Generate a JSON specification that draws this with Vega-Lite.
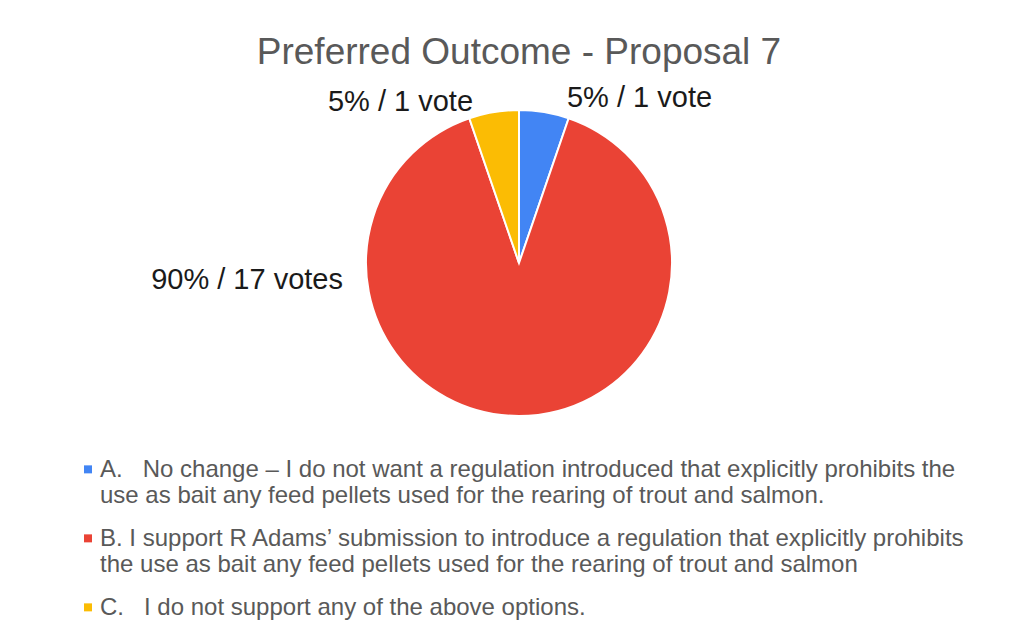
{
  "$schema": "https://vega.github.io/schema/vega-lite/v6.json",
  "autosize": "none",
  "width": 1020,
  "height": 346,
  "padding": {"left": 9, "top": 90, "right": 0, "bottom": 194},
  "background": "white",
  "title": {
    "text": "Preferred Outcome - Proposal 7",
    "fontSize": 37,
    "font": "Liberation Sans",
    "fontWeight": "normal",
    "color": "#595959",
    "anchor": "middle",
    "frame": "group",
    "offset": 12
  },
  "config": {"view": {"stroke": null}},
  "data": {
    "values": [
      {"key": "A", "answer": "A.\u00a0\u00a0\u00a0No change – I do not want a regulation introduced that explicitly prohibits the\nuse as bait any feed pellets used for the rearing of trout and salmon.", "votes": 1, "share": "5% / 1 vote"},
      {"key": "B", "answer": "B. I support R Adams’ submission to introduce a regulation that explicitly prohibits\nthe use as bait any feed pellets used for the rearing of trout and salmon", "votes": 17, "share": "90% / 17 votes"},
      {"key": "C", "answer": "C.\u00a0\u00a0\u00a0I do not support any of the above options.", "votes": 1, "share": "5% / 1 vote"}
    ]
  },
  "encoding": {
    "theta": {"field": "votes", "type": "quantitative", "stack": true},
    "order": {"field": "key"}
  },
  "layer": [
    {
      "mark": {"type": "arc", "outerRadius": 153, "stroke": "white", "strokeWidth": 2},
      "encoding": {
        "color": {
          "field": "answer",
          "type": "nominal",
          "scale": {"range": ["#4285f4", "#ea4335", "#fbbc04"]},
          "legend": {
            "title": null,
            "orient": "none",
            "legendX": 67,
            "legendY": 356,
            "direction": "vertical",
            "padding": 0,
            "symbolType": "M-1,1.84H1V3.84H-1Z",
            "symbolSize": 64,
            "symbolStrokeWidth": 0,
            "labelFont": "Liberation Sans",
            "labelFontSize": 24,
            "labelColor": "#595959",
            "labelLimit": 2000,
            "labelOffset": 0,
            "labelBaseline": "top",
            "rowPadding": 7,
            "labelExpr": "split(datum.label, '\\n')",
            "encode": {
              "labels": {
                "enter": {"lineHeight": {"value": 26}},
                "update": {"lineHeight": {"value": 26}}
              }
            }
          }
        }
      }
    },
    {
      "mark": {"type": "text", "radius": 170, "align": "left", "dx": 20, "dy": 3, "font": "Liberation Sans", "fontSize": 29, "color": "#1a1a1a"},
      "encoding": {
        "text": {"condition": {"test": "datum.key === 'A'", "field": "share"}, "value": ""}
      }
    },
    {
      "mark": {"type": "text", "radius": 170, "align": "right", "dx": -18, "dy": 7, "font": "Liberation Sans", "fontSize": 29, "color": "#1a1a1a"},
      "encoding": {
        "text": {"condition": {"test": "datum.key === 'C'", "field": "share"}, "value": ""}
      }
    },
    {
      "mark": {"type": "text", "radius": 0, "align": "right", "dx": -176, "dy": 17, "font": "Liberation Sans", "fontSize": 29, "color": "#1a1a1a"},
      "encoding": {
        "text": {"condition": {"test": "datum.key === 'B'", "field": "share"}, "value": ""}
      }
    }
  ]
}
